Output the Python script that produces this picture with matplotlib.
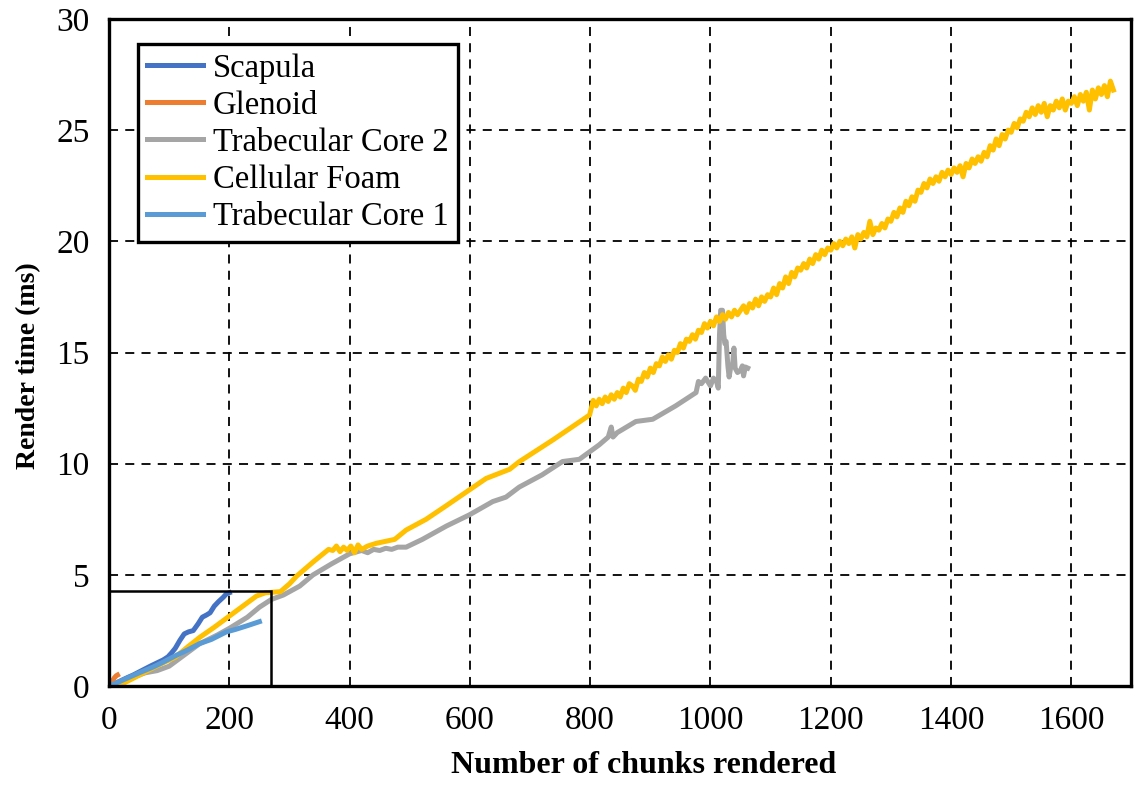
import matplotlib
matplotlib.use("Agg")
import matplotlib.pyplot as plt
from matplotlib.patches import Rectangle

plt.rcParams['font.family'] = ['Liberation Serif', 'DejaVu Serif']

# Scapula
scap_x = [0, 10, 20, 30, 40, 50, 60, 70, 80, 90, 98, 104, 110, 118, 125, 132, 140,
          148, 155, 162, 168, 175, 182, 190, 195, 200]
scap_y = [0, 0.12, 0.25, 0.38, 0.5, 0.64, 0.78, 0.92, 1.05, 1.18, 1.32, 1.5, 1.7, 2.07,
          2.35, 2.44, 2.5, 2.8, 3.1, 3.2, 3.3, 3.6, 3.8, 4.0, 4.15, 4.2]

# Glenoid
glen_x = [0, 3, 6, 9, 12, 14]
glen_y = [0, 0.1, 0.25, 0.38, 0.47, 0.5]

# Trabecular Core 2
tc2_x = [0, 30, 60, 80, 100, 120, 150, 180, 200, 230, 250, 270, 290, 317, 339, 370,
         400, 420, 430, 440, 450, 460, 470, 480, 494, 521, 561, 599, 638, 660, 682,
         720, 754, 782, 815, 830, 835, 838, 845, 876, 904, 942, 976, 980, 985, 992,
         1000, 1005, 1010, 1013, 1015, 1017, 1020, 1022, 1024, 1026, 1029, 1031, 1034,
         1037, 1039, 1041, 1045, 1050, 1053, 1055, 1058, 1062]
tc2_y = [0, 0.3, 0.6, 0.7, 0.9, 1.3, 1.9, 2.3, 2.6, 3.1, 3.55, 3.9, 4.1, 4.5, 5.0, 5.5,
         5.95, 6.1, 6.0, 6.15, 6.1, 6.2, 6.15, 6.25, 6.25, 6.6, 7.2, 7.7, 8.3, 8.5, 8.95,
         9.5, 10.1, 10.2, 10.85, 11.2, 11.65, 11.2, 11.4, 11.9, 12.0, 12.6, 13.2, 13.7,
         13.6, 13.85, 13.5, 13.85, 13.7, 13.4, 15.8, 16.9, 16.9, 15.8, 15.4, 15.5, 14.4,
         13.9, 14.4, 14.5, 15.2, 14.3, 14.1, 14.2, 14.4, 13.95, 14.35, 14.3]

# Cellular Foam (smooth part up to 800, then noisy samples every 5 chunks)
cf_x_start = [0, 18, 40, 68, 90, 110, 130, 151, 175, 195, 220, 245, 260, 285, 300, 312,
              340, 365, 372, 378, 384, 390, 396, 402, 408, 414, 420, 430, 444, 475, 494,
              527, 560, 599, 627, 666, 682, 738, 799]
cf_y_start = [0, 0.05, 0.35, 0.75, 1.05, 1.3, 1.75, 2.2, 2.65, 3.05, 3.55, 4.05, 4.2,
              4.25, 4.6, 4.95, 5.6, 6.15, 6.1, 6.3, 6.05, 6.25, 6.1, 6.3, 6.0, 6.35, 6.15,
              6.3, 6.42, 6.6, 7.02, 7.5, 8.1, 8.82, 9.34, 9.75, 10.09, 11.07, 12.19]
cf_x_noisy = list(range(805, 1675, 5))
cf_y_noisy = [
    12.85, 12.6, 12.9, 12.7, 13.0, 12.8, 13.1, 12.9, 13.2,
    13.0, 13.4, 13.2, 13.6, 13.5, 13.3, 13.8, 13.7, 14.1, 13.9,
    14.3, 14.1, 14.5, 14.4, 14.8, 14.6, 14.9, 14.7, 15.1, 15.0,
    15.4, 15.2, 15.6, 15.5, 15.8, 15.6, 16.0, 15.9, 16.3, 16.1,
    16.4, 16.2, 16.6, 16.4, 16.7, 16.5, 16.8, 16.6, 16.9, 16.7,
    16.9, 17.1, 16.8, 17.2, 17.0, 17.4, 17.1, 17.5, 17.3, 17.6,
    17.5, 17.9, 17.6, 18.1, 17.9, 18.4, 18.1, 18.6, 18.4, 18.8,
    18.7, 19.0, 18.8, 19.2, 19.0, 19.4, 19.2, 19.6, 19.4, 19.7,
    19.6, 19.9, 19.7, 20.0, 19.8, 20.1, 19.9, 20.2, 19.7, 20.3,
    20.1, 20.4, 20.2, 20.9, 20.3, 20.6, 20.5, 20.8, 20.6, 21.0,
    20.9, 21.3, 21.1, 21.5, 21.3, 21.8, 21.6, 22.0, 21.8, 22.3,
    22.2, 22.6, 22.4, 22.8, 22.6, 22.9, 22.7, 23.1, 22.9, 23.2,
    23.0, 23.3, 23.1, 23.4, 22.9, 23.5, 23.3, 23.7, 23.5, 23.8,
    23.6, 24.0, 23.8, 24.3, 24.1, 24.6, 24.3, 24.8, 24.6, 25.0,
    24.9, 25.3, 25.1, 25.5, 25.4, 25.8, 25.6, 26.0, 25.7, 26.1,
    25.8, 26.2, 25.6, 26.1, 25.9, 26.3, 26.0, 26.4, 25.9, 26.3,
    26.2, 26.5, 26.1, 26.6, 26.3, 26.7, 25.9, 26.8, 26.4, 26.9,
    26.6, 27.0, 26.5, 27.2, 26.8,
]
cf_x = cf_x_start + cf_x_noisy
cf_y = cf_y_start + cf_y_noisy

# Trabecular Core 1
tc1_x = [0, 10, 25, 50, 74, 90, 112, 130, 151, 170, 195, 210, 230, 250]
tc1_y = [0, 0.12, 0.3, 0.6, 0.87, 1.08, 1.39, 1.62, 1.92, 2.1, 2.44, 2.55, 2.72, 2.9]

# zoomed region outline
box_w = 270
box_h = 4.3

fig = plt.figure(figsize=(11.36, 7.86), dpi=100)
ax = fig.add_axes([0.096, 0.127, 0.9, 0.849])

lw = 3.6
ax.plot(scap_x, scap_y, color='#4472C4', lw=lw, label='Scapula')
ax.plot(glen_x, glen_y, color='#ED7D31', lw=lw, label='Glenoid')
ax.plot(tc2_x, tc2_y, color='#A5A5A5', lw=lw, label='Trabecular Core 2')
ax.plot(cf_x, cf_y, color='#FFC000', lw=lw, label='Cellular Foam')
ax.plot(tc1_x, tc1_y, color='#5B9BD5', lw=lw, label='Trabecular Core 1')

ax.add_patch(Rectangle((0, 0), box_w, box_h, fill=False, edgecolor='black', lw=1.8, zorder=3))

ax.set_xlim(0, 1700)
ax.set_ylim(0, 30)
ax.set_xticks(range(0, 1700, 200))
ax.set_yticks(range(0, 31, 5))
ax.grid(True, color='black', linestyle=(0, (5, 4)), lw=1.3)
ax.set_axisbelow(True)
ax.tick_params(length=0, labelsize=24, pad=14)
for s in ax.spines.values():
    s.set_linewidth(2.4)

ax.set_xlabel('Number of chunks rendered', fontsize=23, fontweight='bold')
ax.set_ylabel('Render time (ms)', fontsize=20, fontweight='bold')
ax.xaxis.set_label_coords(0.5225, -0.097)
ax.yaxis.set_label_coords(-0.066, 0.48)

leg = ax.legend(loc='upper left', bbox_to_anchor=(0.028, 0.963), borderaxespad=0,
                fontsize=23.5, handlelength=1.7, labelspacing=0.2, handletextpad=0.3,
                fancybox=False, framealpha=1, edgecolor='black', borderpad=0.3)
leg.get_frame().set_linewidth(2.4)

fig.savefig('out.png', dpi=100)
